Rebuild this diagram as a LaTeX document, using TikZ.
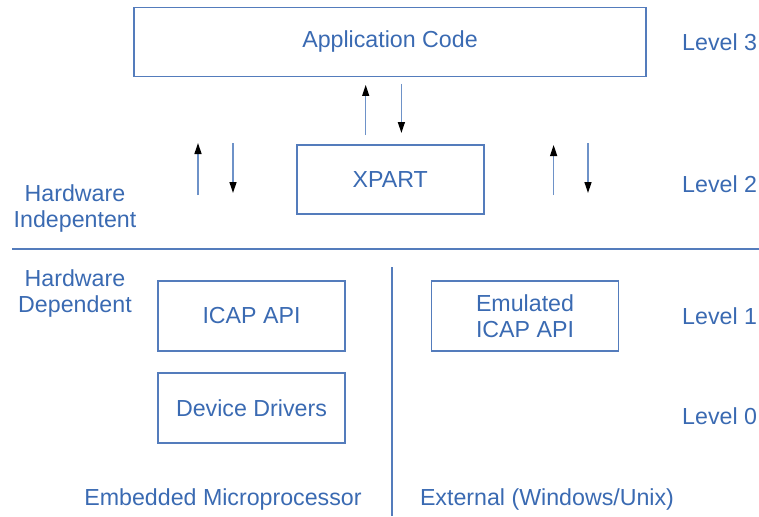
\documentclass[tikz,border=0pt]{standalone}
\usepackage{fontspec}
\setmainfont{Liberation Sans}
\usetikzlibrary{arrows.meta}
\definecolor{txtblue}{RGB}{58,106,178}
\definecolor{lineblue}{RGB}{84,124,188}
\definecolor{shaftblue}{RGB}{110,146,200}
\begin{document}
\begin{tikzpicture}[x=1pt,y=-1pt,
  lbl/.style={text=txtblue,font=\fontsize{23.2}{26}\selectfont,inner sep=0pt,align=center},
  blk/.style={draw=lineblue,line width=1.4pt,text=txtblue,font=\fontsize{23.2}{26}\selectfont,
    inner sep=0pt,align=center,minimum width=187pt,minimum height=70pt},
  flow/.style={draw=shaftblue,line width=1.3pt,-{Triangle[length=11pt,width=7pt,black]}},
  rule/.style={draw=lineblue,line width=1.5pt}]
\useasboundingbox (0,0) rectangle (759,516);

% building blocks
\node[blk,minimum width=512pt,minimum height=69pt] (app) at (390,42) {Application Code};
\node[blk,minimum height=69pt] (xpart) at (390.3,179.5) {XPART};
\node[blk] (icap) at (251.5,316) {ICAP API};
\node[blk] (drv) at (251.5,408) {Device Drivers};
\node[blk] (emu) at (525,316) {Emulated\\ICAP API};

% level labels
\node[lbl,anchor=west] (l3) at (682,42) {Level 3};
\node[lbl,anchor=west] (l2) at (682,184) {Level 2};
\node[lbl,anchor=west] (l1) at (682,316) {Level 1};
\node[lbl,anchor=west] (l0) at (682,416) {Level 0};

% side labels
\node[lbl] (hwi) at (75,208) {Hardware\\Indepentent};
\node[lbl] (hwd) at (75,293) {Hardware\\Dependent};
\node[lbl] (emb) at (223,499) {Embedded Microprocessor};
\node[lbl] (ext) at (547,499) {External (Windows/Unix)};

% separators
\coordinate (hl) at (12,249);
\coordinate (hr) at (759,249);
\coordinate (vt) at (392,267);
\coordinate (vb) at (392,516);
\draw[rule] (hl) -- (hr);
\draw[rule] (vt) -- (vb);

% arrows between Application Code and XPART
\coordinate (u1s) at (365.7,135);
\coordinate (u1e) at (365.7,85);
\coordinate (d1s) at (401.4,84);
\coordinate (d1e) at (401.4,133);
\draw[flow] (u1s) -- (u1e);
\draw[flow] (d1s) -- (d1e);

% arrows at the left of XPART
\coordinate (u2s) at (198,195);
\coordinate (u2e) at (198,143);
\coordinate (d2s) at (233,143);
\coordinate (d2e) at (233,193);
\draw[flow] (u2s) -- (u2e);
\draw[flow] (d2s) -- (d2e);

% arrows at the right of XPART
\coordinate (u3s) at (553.6,195);
\coordinate (u3e) at (553.6,145);
\coordinate (d3s) at (588,143);
\coordinate (d3e) at (588,193);
\draw[flow] (u3s) -- (u3e);
\draw[flow] (d3s) -- (d3e);
\end{tikzpicture}
\end{document}
